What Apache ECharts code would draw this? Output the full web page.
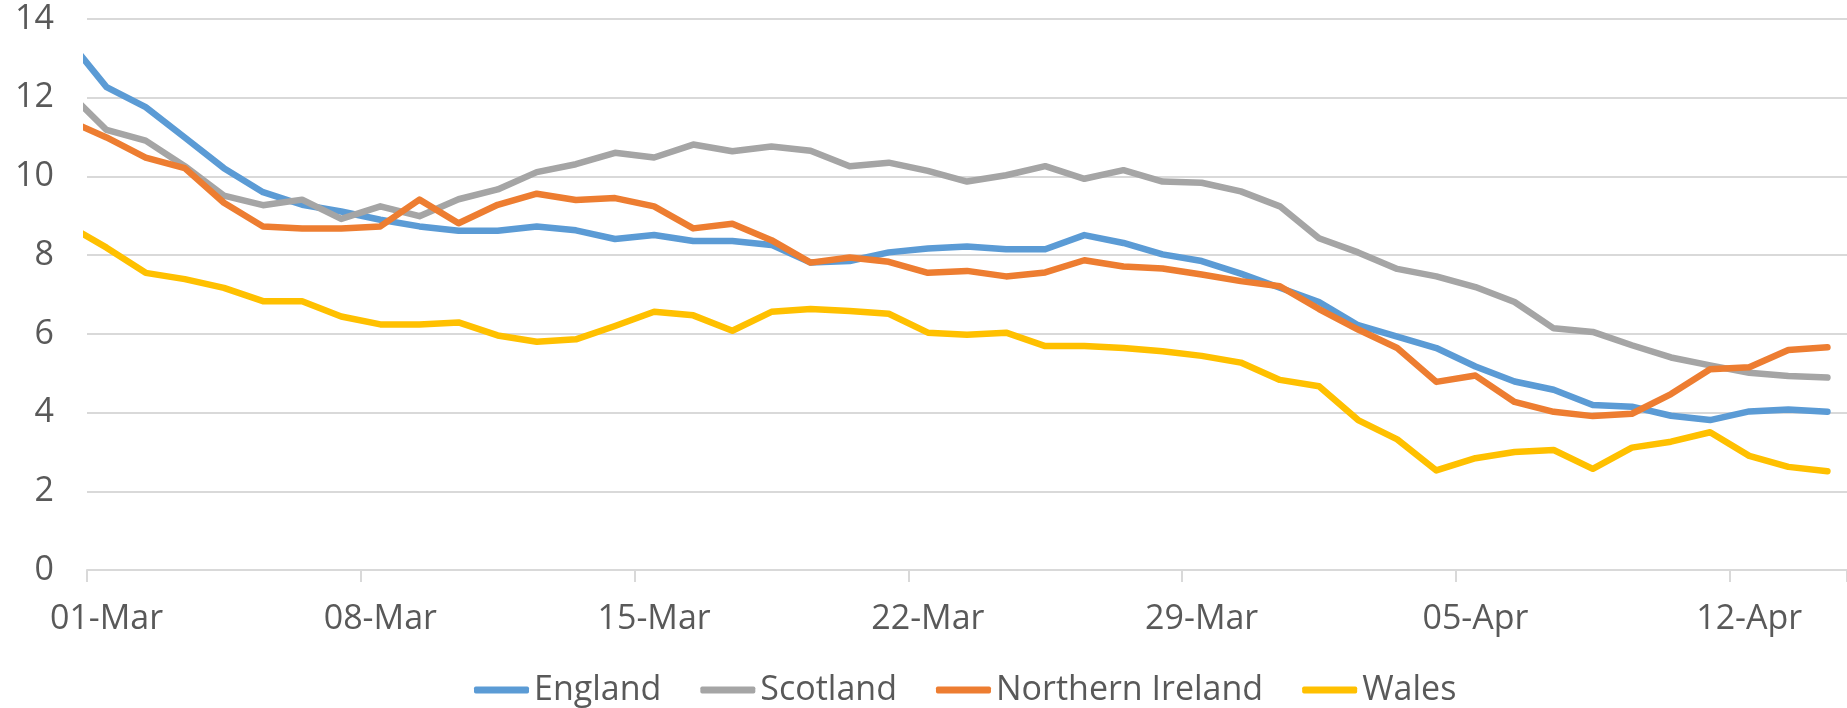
<!DOCTYPE html>
<html>
<head>
<meta charset="utf-8">
<title>Daily rate by nation</title>
<script src="https://cdn.jsdelivr.net/npm/echarts@6/dist/echarts.min.js"></script>
<style>
  html, body { margin: 0; padding: 0; background: #fff; }
  #chart { width: 1847px; height: 708px; }
</style>
</head>
<body>
<div id="chart"></div>
<script>
// 28-Feb is only partly visible: the axis starts at 01-Mar and clips it
const days = [
  '28-Feb',
  '01-Mar', '02-Mar', '03-Mar', '04-Mar', '05-Mar', '06-Mar', '07-Mar',
  '08-Mar', '09-Mar', '10-Mar', '11-Mar', '12-Mar', '13-Mar', '14-Mar',
  '15-Mar', '16-Mar', '17-Mar', '18-Mar', '19-Mar', '20-Mar', '21-Mar',
  '22-Mar', '23-Mar', '24-Mar', '25-Mar', '26-Mar', '27-Mar', '28-Mar',
  '29-Mar', '30-Mar', '31-Mar', '01-Apr', '02-Apr', '03-Apr', '04-Apr',
  '05-Apr', '06-Apr', '07-Apr', '08-Apr', '09-Apr', '10-Apr', '11-Apr',
  '12-Apr', '13-Apr', '14-Apr',
]
const tickLabels = ['01-Mar', '08-Mar', '15-Mar', '22-Mar', '29-Mar', '05-Apr', '12-Apr']

const england = [
  13.49, 12.27, 11.76, 10.99, 10.21, 9.60, 9.28, 9.11, 8.90, 8.73, 8.62,
  8.62, 8.73, 8.63, 8.41, 8.51, 8.36, 8.36, 8.26, 7.81, 7.85, 8.07,
  8.17, 8.22, 8.15, 8.15, 8.51, 8.31, 8.02, 7.85, 7.53, 7.17, 6.81,
  6.22, 5.93, 5.64, 5.17, 4.79, 4.58, 4.19, 4.15, 3.92, 3.81, 4.03,
  4.08, 4.02,
]
const scotland = [
  12.16, 11.18, 10.91, 10.26, 9.51, 9.27, 9.41, 8.92, 9.24, 8.99, 9.42,
  9.67, 10.11, 10.31, 10.60, 10.48, 10.81, 10.64, 10.76, 10.65, 10.26, 10.35,
  10.14, 9.87, 10.03, 10.26, 9.94, 10.16, 9.87, 9.84, 9.62, 9.24, 8.43,
  8.07, 7.65, 7.46, 7.19, 6.81, 6.14, 6.05, 5.71, 5.40, 5.20, 5.01,
  4.93, 4.89,
]
const northernIreland = [
  11.43, 10.99, 10.48, 10.21, 9.33, 8.73, 8.68, 8.68, 8.73, 9.41, 8.81,
  9.28, 9.56, 9.40, 9.45, 9.24, 8.68, 8.80, 8.38, 7.81, 7.94, 7.83,
  7.55, 7.60, 7.46, 7.56, 7.87, 7.71, 7.66, 7.51, 7.34, 7.21, 6.63,
  6.11, 5.64, 4.78, 4.94, 4.27, 4.02, 3.91, 3.97, 4.47, 5.10, 5.15,
  5.59, 5.66,
]
const wales = [
  8.77, 8.19, 7.55, 7.39, 7.17, 6.83, 6.83, 6.44, 6.24, 6.24, 6.29,
  5.96, 5.80, 5.86, 6.20, 6.56, 6.47, 6.08, 6.56, 6.63, 6.58, 6.51,
  6.03, 5.98, 6.03, 5.69, 5.69, 5.64, 5.56, 5.44, 5.27, 4.83, 4.67,
  3.81, 3.32, 2.53, 2.84, 3.00, 3.05, 2.57, 3.11, 3.26, 3.50, 2.90,
  2.62, 2.51,
]

const seriesDefs = [
  { name: 'England', data: england, color: '#5B9BD5' },
  { name: 'Scotland', data: scotland, color: '#A5A5A5' },
  { name: 'Northern Ireland', data: northernIreland, color: '#ED7D31' },
  { name: 'Wales', data: wales, color: '#FFC000' },
]

const textColor = '#595959'
const gridColor = '#D9D9D9'
const fontFamily = '"Open Sans", "Liberation Sans", sans-serif'

const option = {
  animation: false,
  grid: {
    left: 87,
    right: -11,
    top: 19,
    bottom: 138,
  },
  legend: {
    left: 469,
    top: 668,
    icon: 'roundRect',
    itemWidth: 55,
    itemHeight: 7,
    itemGap: 39,
    textStyle: {
      color: textColor,
      fontSize: 34,
      fontFamily,
    },
    data: seriesDefs.map((s) => s.name),
  },
  xAxis: {
    type: 'category',
    data: days,
    min: 1,
    boundaryGap: true,
    axisLine: {
      lineStyle: { color: gridColor, width: 2 },
    },
    axisTick: {
      show: true,
      length: 12,
      interval: (i, v) => tickLabels.includes(v),
      lineStyle: { color: gridColor, width: 2 },
    },
    axisLabel: {
      interval: (i, v) => tickLabels.includes(v),
      color: textColor,
      fontSize: 34,
      fontFamily,
      margin: 32,
    },
    splitLine: { show: false },
  },
  yAxis: {
    type: 'value',
    min: 0,
    max: 14,
    interval: 2,
    axisLine: { show: false },
    axisTick: { show: false },
    axisLabel: {
      color: textColor,
      fontSize: 34,
      fontFamily,
      margin: 33,
    },
    splitLine: {
      lineStyle: { color: gridColor, width: 2 },
    },
  },
  series: seriesDefs.map((s) => ({
    name: s.name,
    type: 'line',
    data: s.data,
    symbol: 'none',
    clip: true,
    color: s.color,
    lineStyle: {
      color: s.color,
      width: 6.5,
      cap: 'round',
      join: 'round',
    },
  })),
}

const chart = echarts.init(document.getElementById('chart'))
chart.setOption(option)

window.addEventListener('resize', () => chart.resize())
</script>
</body>
</html>
